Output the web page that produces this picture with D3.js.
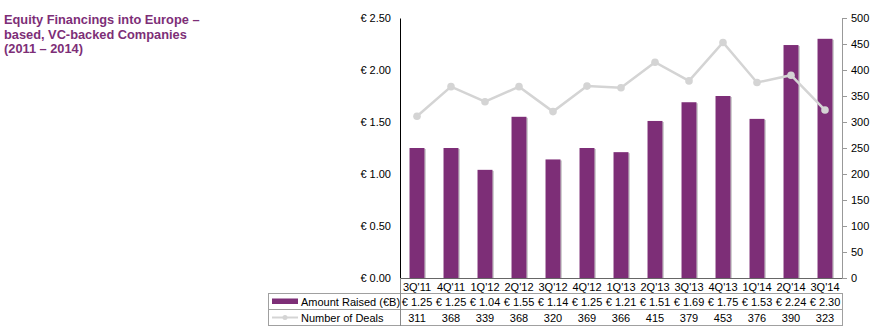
<!DOCTYPE html>
<html><head><meta charset="utf-8">
<script src="https://cdn.jsdelivr.net/npm/d3@7/dist/d3.min.js"></script>
<style>body{margin:0;background:#fff;font-family:"Liberation Sans",Arial,sans-serif;}</style>
</head><body><svg id="c" width="878" height="336"></svg>
<script>
const categories = ["3Q'11","4Q'11","1Q'12","2Q'12","3Q'12","4Q'12","1Q'13","2Q'13","3Q'13","4Q'13","1Q'14","2Q'14","3Q'14"];
const amountRaised = [1.25,1.25,1.04,1.55,1.14,1.25,1.21,1.51,1.69,1.75,1.53,2.24,2.30];
const numberOfDeals = [311,368,339,368,320,369,366,415,379,453,376,390,323];
const leftTicks = [0,0.5,1,1.5,2,2.5];
const rightTicks = [0,50,100,150,200,250,300,350,400,450,500];
const titleLines = ["Equity Financings into Europe –","based, VC-backed Companies","(2011 – 2014)"];

const purple = "#7D2E77", grey = "#d4d4d4";
const svg = d3.select("#c");
const L = 400, R = 842, T = 18, B = 278;
const x = d3.scaleBand().domain(categories).range([L, R]).paddingInner(0.56).paddingOuter(0.28);
const yL = d3.scaleLinear().domain([0, 2.5]).range([B, T]);
const yR = d3.scaleLinear().domain([0, 500]).range([B, T]);

// title
svg.append("g").selectAll("text").data(titleLines).join("text")
  .attr("x", 4).attr("y", (d,i) => 24 + i*14.5)
  .attr("fill", purple).attr("font-weight", "bold").attr("font-size", 12.8).text(d => d);

// bars shadows
svg.append("g").selectAll("rect").data(amountRaised).join("rect")
  .attr("x", (d,i) => x(categories[i]) + 1.5).attr("y", d => yL(d) + 1)
  .attr("width", x.bandwidth()).attr("height", d => B - yL(d) - 1)
  .attr("fill", "#cfcfcf");
svg.append("g").selectAll("rect").data(amountRaised).join("rect")
  .attr("x", (d,i) => x(categories[i])).attr("y", d => yL(d))
  .attr("width", x.bandwidth()).attr("height", d => B - yL(d))
  .attr("fill", purple);

// left axis
const gl = svg.append("g").attr("transform", `translate(${L},0)`)
  .call(d3.axisLeft(yL).tickValues(leftTicks).tickSize(0).tickPadding(9).tickFormat(d => "€ " + d3.format(".2f")(d)));
gl.select(".domain").attr("stroke", "#000");
gl.selectAll("text").attr("font-size", 11).attr("font-family", "Liberation Sans, Arial, sans-serif").attr("fill", "#000");

// right axis
const gr = svg.append("g").attr("transform", `translate(${R},0)`)
  .call(d3.axisRight(yR).tickValues(rightTicks).tickSize(5).tickPadding(4).tickSizeOuter(0));
gr.select(".domain").attr("stroke", "#999");
gr.selectAll("line").attr("stroke", "#999");
gr.selectAll("text").attr("font-size", 11).attr("font-family", "Liberation Sans, Arial, sans-serif").attr("fill", "#000");

// bottom axis line
svg.append("line").attr("x1", L).attr("x2", R).attr("y1", B + 0.5).attr("y2", B + 0.5).attr("stroke", "#666");

// deals line
const cx = i => x(categories[i]) + x.bandwidth()/2;
svg.append("path").datum(numberOfDeals)
  .attr("d", d3.line().x((d,i) => cx(i)).y(d => yR(d)))
  .attr("fill", "none").attr("stroke", grey).attr("stroke-width", 2.5);
svg.append("g").selectAll("circle").data(numberOfDeals).join("circle")
  .attr("cx", (d,i) => cx(i)).attr("cy", d => yR(d)).attr("r", 3.8).attr("fill", grey);

// category labels
svg.append("g").selectAll("text").data(categories).join("text")
  .attr("x", d => x(d) + x.bandwidth()/2).attr("y", 291).attr("text-anchor", "middle")
  .attr("font-size", 11).text(d => d);

// data table
const tb = svg.append("g").attr("fill", "none").attr("stroke", "#a0a0a0");
tb.append("rect").attr("x", 268.5).attr("y", 293.5).attr("width", R - 268).attr("height", 32);
tb.append("line").attr("x1", 268).attr("x2", R).attr("y1", 309.5).attr("y2", 309.5);
tb.append("line").attr("x1", L + 0.5).attr("x2", L + 0.5).attr("y1", B).attr("y2", 326).attr("stroke", "#888");

// legend row
svg.append("rect").attr("x", 272).attr("y", 298.5).attr("width", 26).attr("height", 5.5).attr("fill", purple);
svg.append("text").attr("x", 301).attr("y", 305.5).attr("font-size", 11).text("Amount Raised (€B)");
svg.append("line").attr("x1", 272).attr("x2", 298).attr("y1", 317.5).attr("y2", 317.5).attr("stroke", grey).attr("stroke-width", 2);
svg.append("circle").attr("cx", 285).attr("cy", 317.5).attr("r", 2.5).attr("fill", grey);
svg.append("text").attr("x", 301).attr("y", 322).attr("font-size", 11).text("Number of Deals");

svg.append("g").selectAll("text").data(amountRaised).join("text")
  .attr("x", (d,i) => cx(i)).attr("y", 305.5).attr("text-anchor", "middle").attr("font-size", 11)
  .text(d => "€ " + d3.format(".2f")(d));
svg.append("g").selectAll("text").data(numberOfDeals).join("text")
  .attr("x", (d,i) => cx(i)).attr("y", 322).attr("text-anchor", "middle").attr("font-size", 11)
  .text(d => d);
</script></body></html>
